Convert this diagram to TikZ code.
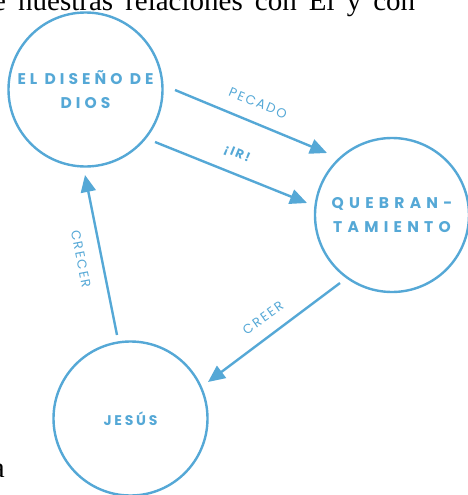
\documentclass[tikz,border=0pt]{standalone}
\usepackage{fontspec}
\setmainfont{Liberation Serif}
\newfontfamily\diosfont[LetterSpace=26]{Poppins}
\newfontfamily\quebfont[LetterSpace=34]{Poppins}
\newfontfamily\jesfont[LetterSpace=20]{Poppins}
\newfontfamily\edgefont[LetterSpace=14]{Poppins}
\usetikzlibrary{arrows.meta,calc}
\definecolor{bl}{HTML}{55A8D6}
\tikzset{
  circ/.style={draw=bl, line width=2.4pt, circle, minimum size=154pt, inner sep=0pt,
    text=bl, align=center},
  arr/.style={draw=bl, line width=2.4pt, -{Triangle[length=17pt,width=15pt]}},
  elab/.style={text=bl, inner sep=0pt, font=\edgefont\fontsize{13}{15}\selectfont},
  body/.style={inner sep=0pt, font=\fontsize{29}{31}\selectfont}
}
\begin{document}
\begin{tikzpicture}[x=1pt,y=-1pt]
\useasboundingbox (0,0) rectangle (468,495);
\clip (0,0) rectangle (468,495);
\node[body, anchor=base west] (toptext) at (-7,11) {\makebox[422pt][s]{e nuestras relaciones con Él y con}};
\node[body, anchor=base east] (bottoma) at (5,477) {a};

\node[circ, font=\diosfont\bfseries\fontsize{15.5}{23.5}\selectfont] (dios) at (85.5,89.5) {EL DISEÑO DE\\DIOS};
\node[circ, font=\quebfont\bfseries\fontsize{15.5}{23.5}\selectfont] (queb) at (392,215) {QUEBRAN-\\TAMIENTO};
\node[circ, font=\jesfont\bfseries\fontsize{14}{20}\selectfont] (jesus) at (130.5,418.5) {JESÚS};

\coordinate (pecA) at ([shift={(89.5,0.5)}]dios.center);
\coordinate (pecB) at ([shift={(-65,-62)}]queb.center);
\coordinate (irA) at ([shift={(69.5,52.5)}]dios.center);
\coordinate (irB) at ([shift={(-85,-12)}]queb.center);
\coordinate (creA) at ([shift={(-52,68)}]queb.center);
\coordinate (creB) at ([shift={(77.5,-36.5)}]jesus.center);
\coordinate (crcA) at ([shift={(-13.5,-83.5)}]jesus.center);
\coordinate (crcB) at ([shift={(-0.5,85.5)}]dios.center);

\draw[arr] (pecA) -- (pecB);
\draw[arr] (irA) -- (irB);
\draw[arr] (creA) -- (creB);
\draw[arr] (crcA) -- (crcB);

\node[elab, rotate=-22.5] (lpec) at (258,103) {PECADO};
\node[elab, rotate=-22.5, font=\edgefont\bfseries\fontsize{12.5}{15}\selectfont] (lir) at (237,154) {¡IR!};
\node[elab, rotate=-79] (lcrc) at (81,259) {CRECER};
\node[elab, rotate=35] (lcre) at (263,318) {CREER};
\end{tikzpicture}
\end{document}
